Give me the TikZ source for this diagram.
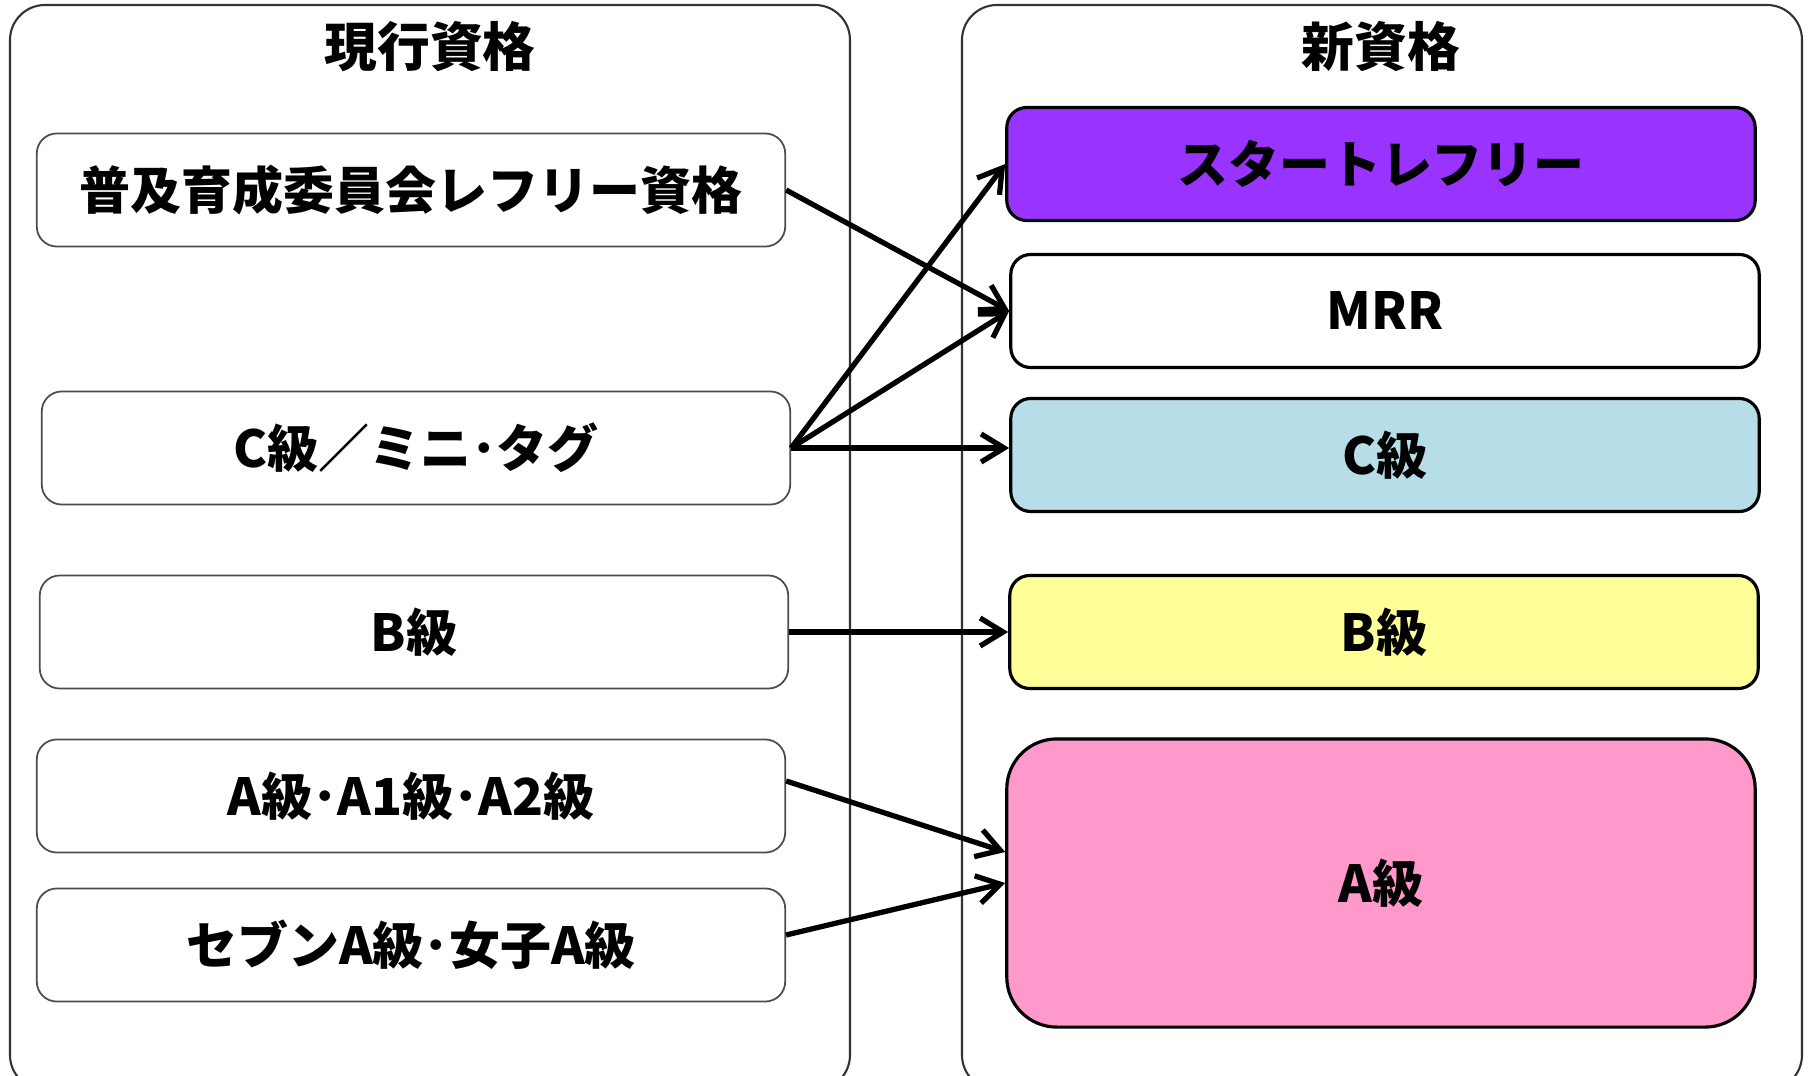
\documentclass[tikz,border=0pt]{standalone}
\usepackage{fontspec}
\setmainfont{Noto Sans CJK JP}
\usetikzlibrary{arrows.meta}
\definecolor{startpurple}{HTML}{9933FF}
\definecolor{cblue}{HTML}{B7DDE8}
\definecolor{byellow}{HTML}{FFFF99}
\definecolor{apink}{HTML}{FF99CC}

\begin{document}
\begin{tikzpicture}[x=0.01cm, y=-0.01cm,
    panel/.style={draw=black!80, line width=0.6pt, rounded corners=0.35cm},
    oldbox/.style={draw=black!70, line width=0.5pt, rounded corners=0.2cm,
        minimum width=7.48cm, minimum height=1.13cm,
        font=\bfseries\fontsize{14.5}{16}\selectfont},
    newbox/.style={draw=black, line width=0.9pt, rounded corners=0.2cm,
        minimum width=7.48cm, minimum height=1.13cm,
        font=\bfseries\fontsize{14.5}{16}\selectfont},
    conn/.style={line width=1.5pt, -{Straight Barb[length=2.3mm,width=2.8mm]}}]
    \clip (0,0) rectangle (1808,1076);
    % panels
    \draw[panel] (10,5) rectangle (850,1090);
    \draw[panel] (962,5) rectangle (1802,1090);
    \node[font=\bfseries\fontsize{15}{17}\selectfont] (oldtitle) at (430,47) {現行資格};
    \node[font=\bfseries\fontsize{15}{17}\selectfont] (newtitle) at (1381,47) {新資格};
    % current qualifications
    \node[oldbox] (fukyu) at (411,190) {普及育成委員会レフリー資格};
    \node[oldbox] (cmini) at (416,448) {C級／ミニ･タグ};
    \node[oldbox] (bold)  at (414,632) {B級};
    \node[oldbox] (aold)  at (411,796) {A級･A1級･A2級};
    \node[oldbox] (seven) at (411,945) {セブンA級･女子A級};
    % new qualifications
    \node[newbox, fill=startpurple] (start) at (1381,164) {スタートレフリー};
    \node[newbox] (mrr) at (1385,311) {MRR};
    \node[newbox, fill=cblue] (cnew) at (1385,455) {C級};
    \node[newbox, fill=byellow] (bnew) at (1384,632) {B級};
    \node[newbox, fill=apink, minimum height=2.88cm, rounded corners=0.5cm] (anew) at (1381,883) {A級};
    % arrows
    \draw[conn] (fukyu.east) -- (mrr.west);
    \draw[conn] (cmini.east) -- (start.west);
    \draw[conn] (cmini.east) -- (mrr.west);
    \draw[conn] (cmini.east) -- (cmini.east -| cnew.west);
    \draw[conn] (bold.east) -- (bnew.west);
    \draw[conn] ([yshift=0.15cm]aold.east) -- ([yshift=0.31cm]anew.west);
    \draw[conn] ([yshift=0.1cm]seven.east) -- (anew.west);
\end{tikzpicture}
\end{document}
